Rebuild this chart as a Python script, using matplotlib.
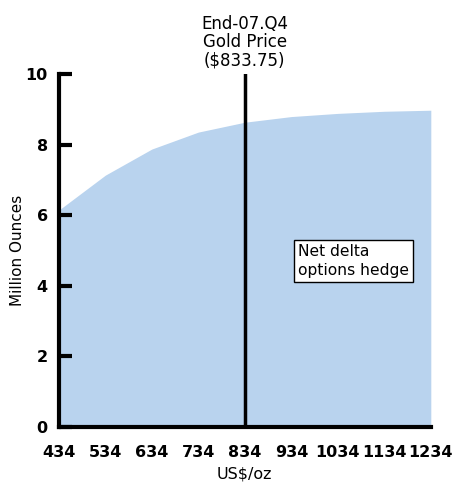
import numpy as np
import matplotlib.pyplot as plt

# gold price (US$/oz) vs net delta hedge (million ounces)
prices = [434, 534, 634, 734, 834, 934, 1034, 1134, 1234]
ounces = [6.15, 7.14, 7.88, 8.36, 8.64, 8.80, 8.89, 8.95, 8.98]
spot = 833.75
tick_labels = ['434', '534', '634', '734', '834', '934', '1034', '1134', '1234']

fig = plt.figure(figsize=(4.53, 4.82), dpi=100)
ax = fig.add_axes([0.130, 0.114, 0.821, 0.732])

ax.fill_between(prices, ounces, 0, color='#b9d3ee', linewidth=0)
ax.axvline(spot, color='black', linewidth=2.5)

ax.set_xlim(434, 1234)
ax.set_ylim(0, 10)
ax.set_xticks(prices)
ax.set_xticklabels(tick_labels)
ax.set_yticks([0, 2, 4, 6, 8, 10])

for s in ['top', 'right']:
    ax.spines[s].set_visible(False)
ax.spines['left'].set_linewidth(3)
ax.spines['bottom'].set_linewidth(3)

ax.tick_params(axis='x', length=0, pad=13, labelsize=11.5)
ax.tick_params(axis='y', direction='in', length=9, width=3, pad=8, labelsize=11.5)
for lbl in ax.get_xticklabels() + ax.get_yticklabels():
    lbl.set_fontweight('bold')

ax.set_xlabel('US$/oz', fontsize=11.5)
ax.set_ylabel('Million Ounces', fontsize=11)
ax.xaxis.set_label_coords(0.5, -0.113)
ax.yaxis.set_label_coords(-0.092, 0.5)

ax.text(spot, 10.12, 'End-07.Q4\nGold Price\n($833.75)', ha='center', va='bottom',
        fontsize=12, linespacing=1.05)
ax.text(948, 4.70, 'Net delta\noptions hedge', ha='left', va='center', fontsize=11.2,
        linespacing=1.32,
        bbox=dict(boxstyle='square,pad=0.25', facecolor='white', edgecolor='black', linewidth=1))

fig.savefig('out.png', dpi=100)
